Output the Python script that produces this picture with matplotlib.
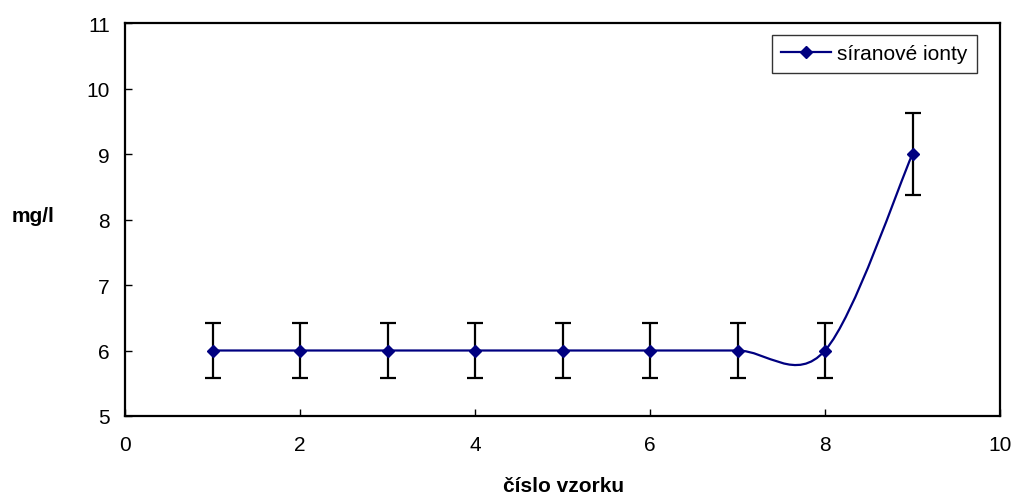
import numpy as np
import matplotlib
matplotlib.use("Agg")
import matplotlib.pyplot as plt
from matplotlib.path import Path
from matplotlib.patches import PathPatch
from matplotlib.lines import Line2D

plt.rcParams['font.family'] = ['Liberation Sans', 'DejaVu Sans']

# sample numbers and measured sulphate concentration (mg/l)
sample_no = [1, 2, 3, 4, 5, 6, 7, 8, 9]
sulphate = [6, 6, 6, 6, 6, 6, 6, 6, 9]
rel_error = 0.07  # 7 % error bars
series_name = "síranové ionty"
x_ticks = [0, 2, 4, 6, 8, 10]
y_ticks = [5, 6, 7, 8, 9, 10, 11]

navy = "#000080"

fig = plt.figure(figsize=(10.16, 5.02), dpi=100)
ax = fig.add_axes([125 / 1016, 85 / 502, 875 / 1016, 393 / 502])

x = np.array(sample_no, dtype=float)
y = np.array(sulphate, dtype=float)

# smoothed connecting line (Catmull-Rom style Bezier segments)
pts = np.column_stack([x, y])
ext = np.vstack([pts[0], pts, pts[-1]])
verts = [tuple(pts[0])]
codes = [Path.MOVETO]
for i in range(len(pts) - 1):
    p0, p1, p2, p3 = ext[i], ext[i + 1], ext[i + 2], ext[i + 3]
    c1 = p1 + (p2 - p0) / 6.0
    c2 = p2 - (p3 - p1) / 6.0
    verts += [tuple(c1), tuple(c2), tuple(p2)]
    codes += [Path.CURVE4] * 3
ax.add_patch(PathPatch(Path(verts, codes), facecolor='none', edgecolor=navy,
                       lw=1.6, zorder=3))

ax.errorbar(x, y, yerr=rel_error * y, fmt='none', ecolor='black',
            elinewidth=1.6, capsize=5.8, capthick=1.6, zorder=2)
ax.plot(x, y, linestyle='none', marker='D', markersize=6.5, color=navy, zorder=4)

ax.set_xlim(0, 10)
ax.set_ylim(5, 11)
ax.set_xticks(x_ticks)
ax.set_yticks(y_ticks)
ax.tick_params(direction='in', length=5, width=1, labelsize=15, colors='black',
               top=False, right=False)
ax.tick_params(axis='x', pad=14)
ax.tick_params(axis='y', pad=11)
for s in ax.spines.values():
    s.set_linewidth(1.6)
    s.set_color('black')

fig.text(563.5 / 1016, 1 - 487 / 502, "číslo vzorku", ha='center', va='center',
         fontsize=15, fontweight='bold')
fig.text(33.5 / 1016, 1 - 217 / 502, "mg/l", ha='center', va='center',
         fontsize=15, fontweight='bold')

handle = Line2D([], [], color=navy, lw=1.6, marker='D', markersize=6)
leg = ax.legend([handle], [series_name], loc='upper right',
                bbox_to_anchor=(0.9737, 0.9695), borderaxespad=0,
                fontsize=15, handlelength=2.4, handletextpad=0.3,
                borderpad=0.45, fancybox=False, frameon=True, markerscale=1)
leg.get_frame().set_edgecolor('black')
leg.get_frame().set_linewidth(1.0)

fig.savefig("out.png", dpi=100)
